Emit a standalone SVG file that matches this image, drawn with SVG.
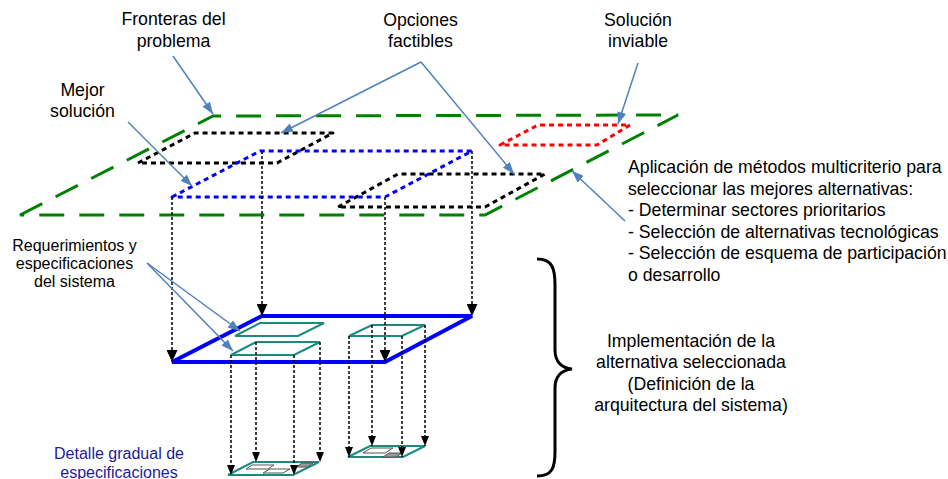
<svg xmlns="http://www.w3.org/2000/svg" width="948" height="479" viewBox="0 0 948 479">
<style>
text{font-family:"Liberation Sans",Arial,sans-serif;font-size:17.7px;fill:#000}
.sm{font-size:16px}
.c{text-anchor:middle}
.navy{fill:#1C1C9C}
.green{fill:none;stroke:#008000;stroke-width:3;stroke-dasharray:25 15}
.dot{fill:none;stroke-width:3;stroke-dasharray:5 4;stroke-linejoin:round}
.drop{fill:none;stroke:#000;stroke-width:1.5;stroke-dasharray:3 2}
.teal{fill:none;stroke:#1B8A80;stroke-width:2}
.call{fill:none;stroke:#4F81BD;stroke-width:1.5}
.gray{fill:none;stroke:#555;stroke-width:1}
</style>
<defs>
<marker id="ahL" viewBox="0 0 12 11" refX="12" refY="5.5" markerWidth="12" markerHeight="11" markerUnits="userSpaceOnUse" orient="auto"><path d="M0,0 L12,5.5 L0,11 z" fill="#000"/></marker>
<marker id="ahS" viewBox="0 0 10 8" refX="10" refY="4" markerWidth="10" markerHeight="8" markerUnits="userSpaceOnUse" orient="auto"><path d="M0,0 L10,4 L0,8 z" fill="#000"/></marker>
<marker id="ahB" viewBox="0 0 12 9" refX="12" refY="4.5" markerWidth="12" markerHeight="9" markerUnits="userSpaceOnUse" orient="auto"><path d="M0,0 L12,4.5 L0,9 z" fill="#4F81BD"/></marker>
</defs>

<g id="plano-fronteras">
<path class="green" d="M20,215 L213,116 L678,115 L485,215 Z"/>
</g>
<g id="opcion-1">
<path class="dot" stroke="#000" d="M138,163 L195,133 L333,133 L277,163 Z"/>
</g>
<g id="opcion-2">
<path class="dot" stroke="#000" d="M338,207 L398,174 L545,174 L485,207 Z"/>
</g>
<g id="mejor-solucion">
<path class="dot" stroke="#0000FF" d="M172,197 L260,151 L472,151 L385,197 Z"/>
</g>
<g id="solucion-inviable">
<path class="dot" stroke="#FF0000" d="M500,145 L538,125 L630,125 L597,145 Z"/>
</g>

<g id="implementacion">
<path fill="none" stroke="#0000FF" stroke-width="4" stroke-linejoin="miter" d="M172,362 L262,316 L472,316 L385,362 Z"/>
</g>
<g id="req-1">
<path class="teal" d="M235,336 L260,323 L324,323 L298,336 Z"/>
</g>
<g id="req-2">
<path class="teal" d="M231,355 L256,342 L320,342 L294,355 Z"/>
</g>
<g id="req-3">
<path class="teal" d="M349,336 L372,325 L425,325 L402,336 Z"/>
</g>
<g id="detalle-1">
<path class="teal" d="M228,475 L253,462 L319,462 L293,475 Z"/>
<path class="gray" d="M246,469 L252,465 L274,465 L268,469 Z"/>
<path class="gray" d="M263,473 L270,469 L290,469 L283,473 Z"/>
<path fill="#999" stroke="#555" stroke-width="1" d="M296,467 L302,463 L313,463 L307,467 Z"/>
</g>
<g id="detalle-2">
<path class="teal" d="M348,457 L370,446 L425,446 L403,457 Z"/>
<path class="gray" d="M363,453 L371,448 L393,448 L385,453 Z"/>
<path fill="#999" stroke="#555" stroke-width="1" d="M383,457 L389,453 L402,453 L396,457 Z"/>
</g>

<g id="connectors">
<line class="drop" x1="172" y1="197" x2="172" y2="362" marker-end="url(#ahL)"/>
<line class="drop" x1="262" y1="151" x2="262" y2="316" marker-end="url(#ahL)"/>
<line class="drop" x1="472" y1="151" x2="472" y2="316" marker-end="url(#ahL)"/>
<line class="drop" x1="385" y1="197" x2="385" y2="362" marker-end="url(#ahL)"/>
<line class="drop" x1="231" y1="355" x2="231" y2="475" marker-end="url(#ahS)"/>
<line class="drop" x1="256" y1="342" x2="256" y2="462" marker-end="url(#ahS)"/>
<line class="drop" x1="294" y1="355" x2="294" y2="475" marker-end="url(#ahS)"/>
<line class="drop" x1="320" y1="342" x2="320" y2="462" marker-end="url(#ahS)"/>
<line class="drop" x1="349" y1="336" x2="349" y2="457" marker-end="url(#ahS)"/>
<line class="drop" x1="372" y1="325" x2="372" y2="446" marker-end="url(#ahS)"/>
<line class="drop" x1="402" y1="336" x2="402" y2="457" marker-end="url(#ahS)"/>
<line class="drop" x1="425" y1="325" x2="425" y2="446" marker-end="url(#ahS)"/>
<line class="call" x1="173" y1="56" x2="213" y2="114" marker-end="url(#ahB)"/>
<line class="call" x1="128" y1="122" x2="192" y2="186" marker-end="url(#ahB)"/>
<line class="call" x1="421" y1="62" x2="281" y2="133" marker-end="url(#ahB)"/>
<line class="call" x1="421" y1="62" x2="514" y2="174" marker-end="url(#ahB)"/>
<line class="call" x1="638" y1="63" x2="618" y2="124" marker-end="url(#ahB)"/>
<line class="call" x1="625" y1="221" x2="572" y2="171" marker-end="url(#ahB)"/>
<line class="call" stroke-width="1" x1="147" y1="263" x2="240" y2="331" marker-end="url(#ahB)"/>
<line class="call" stroke-width="1" x1="147" y1="263" x2="233" y2="351" marker-end="url(#ahB)"/>
<path fill="none" stroke="#000" stroke-width="3" d="M537,259 C552,259 555,268 555,285 L555,350 C555,362 562,368 572,369 C562,370 555,376 555,388 L555,452 C555,468 552,476 537,476"/>
</g>

<g id="labels">
<text class="c" x="173.5" y="25">Fronteras del</text>
<text class="c" x="173.5" y="46.5">problema</text>
<text class="c" x="82.5" y="96">Mejor</text>
<text class="c" x="82.5" y="117">solución</text>
<text class="c" x="420.5" y="25.5">Opciones</text>
<text class="c" x="420.5" y="47">factibles</text>
<text class="c" x="638" y="25.5">Solución</text>
<text class="c" x="638" y="47">inviable</text>
<text x="628" y="173.3">Aplicación de métodos multicriterio para</text>
<text x="628" y="194.8">seleccionar las mejores alternativas:</text>
<text x="628" y="216.3">- Determinar sectores prioritarios</text>
<text x="628" y="237.8">- Selección de alternativas tecnológicas</text>
<text x="628" y="259.3">- Selección de esquema de participación</text>
<text x="628" y="280.8">o desarrollo</text>
<text class="sm c" x="74.5" y="250.5">Requerimientos y</text>
<text class="sm c" x="74.5" y="268.8">especificaciones</text>
<text class="sm c" x="74.5" y="287">del sistema</text>
<text class="c" x="691" y="347">Implementación de la</text>
<text class="c" x="691" y="368.3">alternativa seleccionada</text>
<text class="c" x="691" y="389.6">(Definición de la</text>
<text class="c" x="691" y="410.9">arquitectura del sistema)</text>
<text class="sm c navy" x="119" y="458.5">Detalle gradual de</text>
<text class="sm c navy" x="119" y="477.5">especificaciones</text>
</g>
</svg>
